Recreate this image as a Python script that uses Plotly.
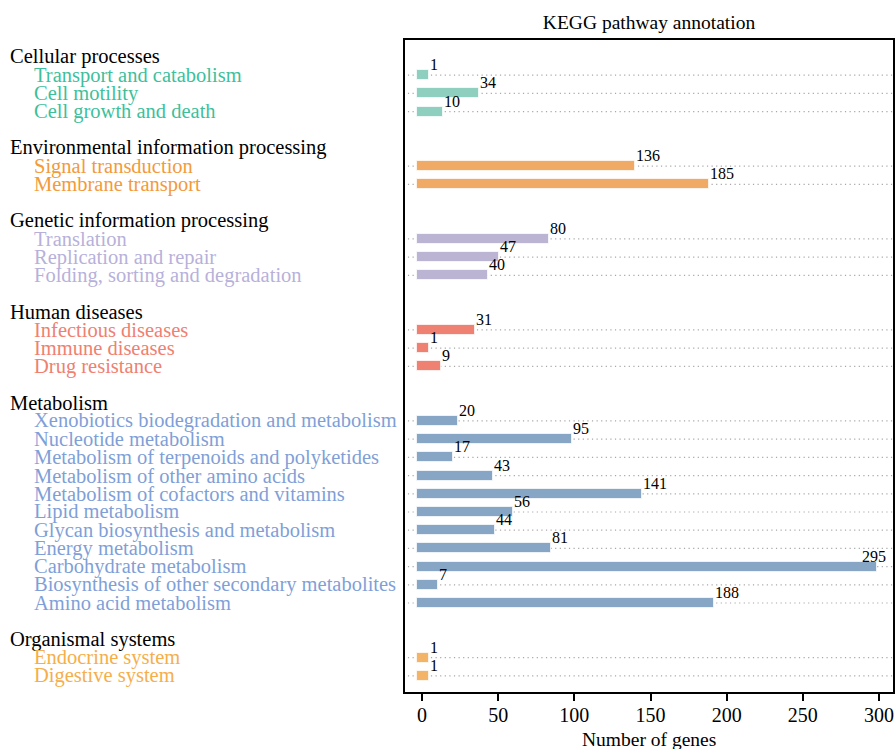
import plotly.graph_objects as go

# ---- data ----
groups = ["Cellular processes", "Environmental information processing",
          "Genetic information processing", "Human diseases", "Metabolism",
          "Organismal systems"]
cellular_paths = ["Transport and catabolism", "Cell motility", "Cell growth and death"]
cellular_vals = [1, 34, 10]
env_paths = ["Signal transduction", "Membrane transport"]
env_vals = [136, 185]
genetic_paths = ["Translation", "Replication and repair", "Folding, sorting and degradation"]
genetic_vals = [80, 47, 40]
human_paths = ["Infectious diseases", "Immune diseases", "Drug resistance"]
human_vals = [31, 1, 9]
metab_paths = ["Xenobiotics biodegradation and metabolism", "Nucleotide metabolism",
               "Metabolism of terpenoids and polyketides", "Metabolism of other amino acids",
               "Metabolism of cofactors and vitamins", "Lipid metabolism",
               "Glycan biosynthesis and metabolism", "Energy metabolism",
               "Carbohydrate metabolism", "Biosynthesis of other secondary metabolites",
               "Amino acid metabolism"]
metab_vals = [20, 95, 17, 43, 141, 56, 44, 81, 295, 7, 188]
organ_paths = ["Endocrine system", "Digestive system"]
organ_vals = [1, 1]
x_ticks = [0, 50, 100, 150, 200, 250, 300]

group_paths = [cellular_paths, env_paths, genetic_paths, human_paths, metab_paths, organ_paths]
group_vals = [cellular_vals, env_vals, genetic_vals, human_vals, metab_vals, organ_vals]

# ---- styles ----
bar_colors = ["#8ecfc0", "#f1aa66", "#bbb4d2", "#ee8171", "#87a6c5", "#f3b468"]
text_colors = ["#3ebf9c", "#f39a3a", "#b7b1da", "#f08070", "#7f9fd8", "#f6ae4a"]
FONT = "Liberation Serif"
CAP = 3.6          # square-cap overhang of bars, in data units
BAR_W = 0.55
PAPER_W = 488.0
PAPER_H = 652.0
PLOT_L = 405.0
X_RANGE = [-11.2, 309.2]

fig = go.Figure()
annotations = []
shapes = []

row = 0
for gi, g in enumerate(groups):
    annotations.append(dict(x=(8 - PLOT_L) / PAPER_W, xref="paper", y=row, yref="y",
                            text=g, showarrow=False, xanchor="left", yanchor="middle",
                            font=dict(family=FONT, size=20.5, color="black")))
    row += 1
    rows = []
    for p, v in zip(group_paths[gi], group_vals[gi]):
        rows.append(row)
        annotations.append(dict(x=(32 - PLOT_L) / PAPER_W, xref="paper", y=row, yref="y",
                                text=p, showarrow=False, xanchor="left", yanchor="middle",
                                font=dict(family=FONT, size=20.5, color=text_colors[gi])))
        # keep value labels inside the frame
        if v + CAP > X_RANGE[1] - 25:
            lab = dict(x=1, xref="x domain", xanchor="right", xshift=-5)
        else:
            lab = dict(x=v + CAP, xref="x", xanchor="left", xshift=-1)
        annotations.append(dict(y=row, yref="y", text=str(v),
                                showarrow=False, yanchor="bottom", yshift=0,
                                font=dict(family=FONT, size=16, color="black"), **lab))
        shapes.append(dict(type="line", xref="x domain", x0=0.006, x1=1, yref="y",
                           y0=row, y1=row, layer="below",
                           line=dict(color="#a8a8a8", width=1.2, dash="1.2px,3.4px")))
        row += 1
    vals = group_vals[gi]
    fig.add_trace(go.Bar(
        y=rows, x=[v + 2 * CAP for v in vals], base=[-CAP] * len(vals),
        orientation="h", width=BAR_W,
        marker=dict(color=bar_colors[gi], line=dict(color="rgba(255,255,255,0.7)", width=1)),
        showlegend=False, hoverinfo="skip"))
    row += 1  # blank spacer row

# x axis title as annotation
annotations.append(dict(x=0.5, xref="paper", y=-(739 - 692) / PAPER_H, yref="paper",
                        text="Number of genes", showarrow=False, xanchor="center",
                        yanchor="middle", font=dict(family=FONT, size=19.5, color="black")))

fig.update_layout(
    width=896, height=749,
    margin=dict(l=405, r=3, t=40, b=57, autoexpand=False),
    paper_bgcolor="white", plot_bgcolor="white",
    title=dict(text="KEGG pathway annotation", x=0.5, xref="paper", xanchor="center",
               y=1 - 22 / 749, yref="container", yanchor="middle",
               font=dict(family=FONT, size=19.5, color="black")),
    annotations=annotations, shapes=shapes,
    font=dict(family=FONT, color="black"),
    bargap=0,
)
fig.update_xaxes(range=X_RANGE, tickvals=x_ticks, ticks="outside", ticklen=7,
                 tickwidth=1.5, tickcolor="black", showgrid=False, zeroline=False,
                 showline=True, linecolor="black", linewidth=2, mirror=True,
                 automargin=False, ticklabelstandoff=-3,
                 tickfont=dict(family=FONT, size=20, color="black"))
fig.update_yaxes(range=[34.89, -0.93], showticklabels=False, ticks="", showgrid=False,
                 zeroline=False, showline=True, linecolor="black", linewidth=2, mirror=True,
                 automargin=False)

fig.write_html("out.html", config={"displayModeBar": False},
               post_script="document.body.style.margin='0';document.body.style.overflow='hidden';")
